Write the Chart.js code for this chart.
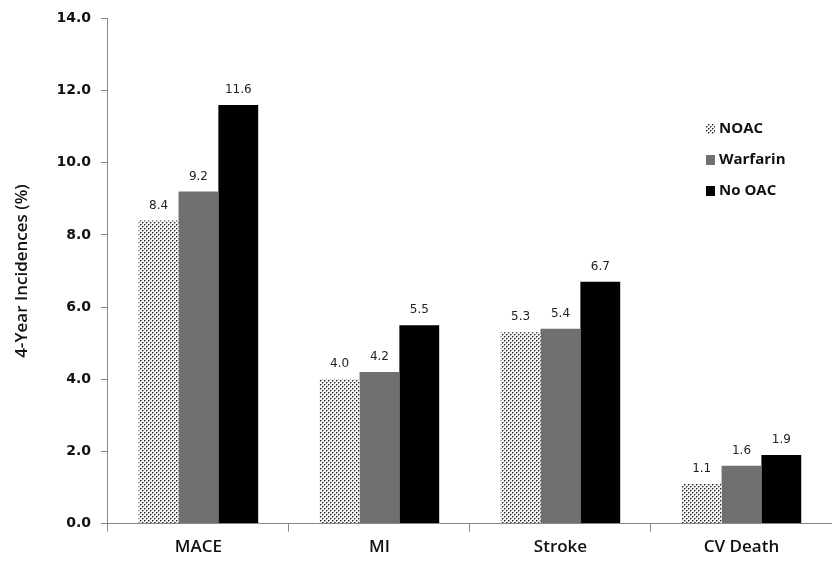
<!DOCTYPE html>
<html><head><meta charset="utf-8">
<script src="https://cdn.jsdelivr.net/npm/chart.js@4/dist/chart.umd.min.js"></script>
<style>html,body{margin:0;padding:0;background:#fff}#wrap{width:832px;height:562px}</style>
</head><body><div id="wrap"><canvas id="c"></canvas></div>
<script>
const categories = ["MACE", "MI", "Stroke", "CV Death"];
const seriesNames = ["NOAC", "Warfarin", "No OAC"];
const noac = [8.4, 4.0, 5.3, 1.1];
const warfarin = [9.2, 4.2, 5.4, 1.6];
const noOac = [11.6, 5.5, 6.7, 1.9];
const yTicks = [0, 2, 4, 6, 8, 10, 12, 14];

function dotPattern() {
  const t = document.createElement('canvas');
  t.width = 4; t.height = 4;
  const g = t.getContext('2d');
  g.fillStyle = '#f4f4f4'; g.fillRect(0,0,4,4);
  g.fillStyle = '#222';
  g.fillRect(0,0,1,1); g.fillRect(2,2,1,1);
  g.fillStyle = '#999';
  g.fillRect(1,0,1,1); g.fillRect(0,1,1,1); g.fillRect(3,2,1,1); g.fillRect(2,3,1,1);
  return document.getElementById('c').getContext('2d').createPattern(t, 'repeat');
}
const pat = dotPattern();
const colors = [pat, '#707070', '#000000'];

const labelPlugin = {
  id: 'vals',
  afterDatasetsDraw(chart) {
    const ctx = chart.ctx;
    ctx.save();
    ctx.font = '12px "DejaVu Sans"';
    ctx.fillStyle = '#222';
    ctx.textAlign = 'center';
    ctx.textBaseline = 'bottom';
    chart.data.datasets.forEach((ds, i) => {
      chart.getDatasetMeta(i).data.forEach((bar, j) => {
        ctx.fillText(ds.data[j].toFixed(1), bar.x, bar.y - 9);
      });
    });
    ctx.restore();
  }
};
const legendPlugin = {
  id: 'customLegend',
  afterDraw(chart) {
    const ctx = chart.ctx;
    ctx.save();
    ctx.font = 'bold 15px "Open Sans"';
    ctx.textBaseline = 'middle';
    seriesNames.forEach((n, i) => {
      const y = 129 + i * 31;
      ctx.fillStyle = colors[i];
      ctx.fillRect(706, y - 5, 9, 10);
      ctx.fillStyle = '#111';
      ctx.fillText(n, 719, y);
    });
    ctx.restore();
  }
};

new Chart(document.getElementById('c'), {
  type: 'bar',
  data: {
    labels: categories,
    datasets: [noac, warfarin, noOac].map((d, i) => ({
      label: seriesNames[i], data: d, backgroundColor: colors[i],
      borderWidth: 0, barPercentage: 1.0, categoryPercentage: 0.66
    }))
  },
  options: {
    responsive: true, maintainAspectRatio: false, animation: false,
    layout: { padding: { top: 8, right: 0, left: 8, bottom: 0 } },
    plugins: { legend: { display: false }, tooltip: { enabled: false } },
    scales: {
      x: {
        offset: true,
        grid: { offset: true, drawOnChartArea: false, drawTicks: true, tickLength: 8, color: '#888' },
        border: { color: '#888', width: 1 },
        ticks: { color: '#111', font: { family: '"Open Sans"', size: 17, weight: '600' }, padding: 5 }
      },
      y: {
        min: 0, max: 14,
        afterBuildTicks(s) { s.ticks = yTicks.map(v => ({ value: v })); },
        grid: { drawOnChartArea: false, drawTicks: true, tickLength: 7, color: '#888' },
        border: { color: '#888', width: 1 },
        ticks: { color: '#111', font: { family: '"DejaVu Sans"', size: 14, weight: 'bold' }, padding: 10,
          callback: v => Number(v).toFixed(1) },
        title: { display: true, text: '4-Year Incidences (%)', color: '#111',
          font: { family: '"Open Sans"', size: 17, weight: '600' }, padding: { bottom: 14 } }
      }
    }
  },
  plugins: [labelPlugin, legendPlugin]
});
</script></body></html>
